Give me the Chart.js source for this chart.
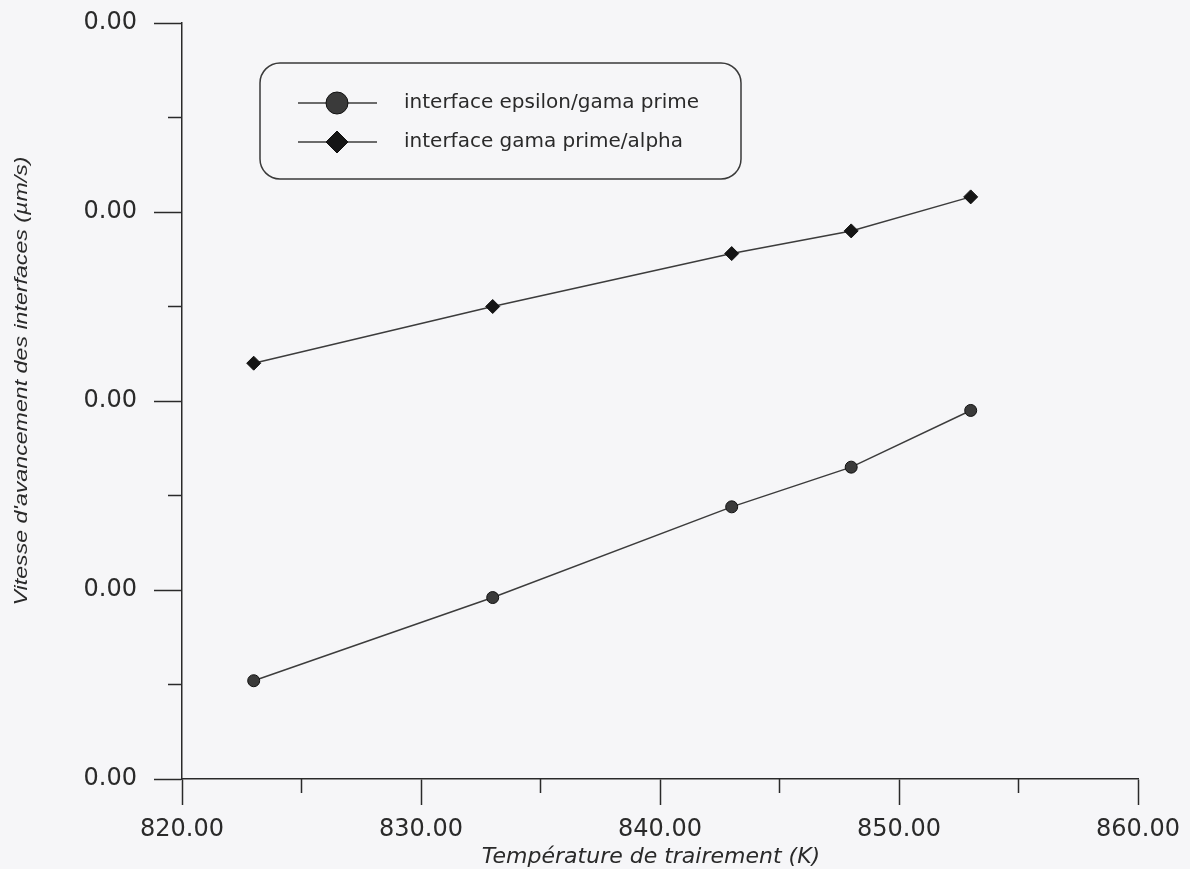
<!DOCTYPE html>
<html>
<head>
<meta charset="utf-8">
<script src="https://cdn.jsdelivr.net/npm/chart.js@4/dist/chart.umd.min.js"></script>
<style>
  html, body { margin: 0; padding: 0; background: #f6f6f8; }
  #wrap { width: 1190px; height: 869px; position: relative; }
</style>
</head>
<body>
<div id="wrap"><canvas id="chart"></canvas></div>
<script>
// Treatment temperatures (K)
const temperatures = [823, 833, 843, 848, 853];
// Interface advance speed (µm/s)
const epsilonGammaPrime = [0.00052, 0.00096, 0.00144, 0.00165, 0.00195];
const gammaPrimeAlpha = [0.00220, 0.00250, 0.00278, 0.00290, 0.00308];

const seriesLabels = ['interface epsilon/gama prime', 'interface gama prime/alpha'];
const xTitle = 'Température de trairement (K)';
const yTitle = "Vitesse d'avancement des interfaces (µm/s)";

const INK = '#2a2a2a';
const TICK_FONT = { family: 'DejaVu Sans', size: 24 };

const toPoints = (ys) => temperatures.map((t, i) => ({ x: t, y: ys[i] }));

// Half-step tick marks drawn on the outside of both axes
const minorTicks = {
  id: 'minorTicks',
  afterDraw(chart) {
    const { ctx, chartArea: a, scales: { x, y } } = chart;
    ctx.save();
    ctx.strokeStyle = INK;
    ctx.lineWidth = 1.5;
    ctx.beginPath();
    for (let v = 825; v < 860; v += 10) {
      const px = x.getPixelForValue(v);
      ctx.moveTo(px, a.bottom);
      ctx.lineTo(px, a.bottom + 14);
    }
    for (let k = 0; k < 4; k++) {
      const py = y.getPixelForValue(0.0005 + k * 0.001);
      ctx.moveTo(a.left, py);
      ctx.lineTo(a.left - 14, py);
    }
    ctx.stroke();
    ctx.restore();
  }
};

// Axis titles in italics
const axisTitles = {
  id: 'axisTitles',
  afterDraw(chart) {
    const { ctx, chartArea: a } = chart;
    ctx.save();
    ctx.fillStyle = INK;
    ctx.font = 'italic 22px "DejaVu Sans"';
    ctx.textAlign = 'center';
    ctx.textBaseline = 'middle';
    ctx.fillText(xTitle, (a.left + a.right) / 2 - 9, 857);
    ctx.translate(22, 381);
    ctx.rotate(-Math.PI / 2);
    ctx.scale(1.22, 1);
    ctx.font = 'italic 19px "Liberation Sans"';
    ctx.fillText(yTitle, 0, 0);
    ctx.restore();
  }
};

// Boxed legend with line-marker-line samples
const boxLegend = {
  id: 'boxLegend',
  afterDraw(chart) {
    const { ctx } = chart;
    const box = { x: 260, y: 63, w: 481, h: 116, r: 20 };
    ctx.save();
    ctx.strokeStyle = '#3a3a3a';
    ctx.lineWidth = 1.5;
    ctx.beginPath();
    ctx.roundRect(box.x, box.y, box.w, box.h, box.r);
    ctx.stroke();
    const rows = [103, 142];
    chart.data.datasets.forEach((ds, i) => {
      const yy = rows[i];
      ctx.strokeStyle = ds.borderColor;
      ctx.lineWidth = 1.5;
      ctx.beginPath();
      ctx.moveTo(298, yy);
      ctx.lineTo(377, yy);
      ctx.stroke();
      ctx.fillStyle = ds.pointBackgroundColor;
      ctx.strokeStyle = ds.pointBorderColor;
      ctx.lineWidth = 1;
      Chart.helpers.drawPoint(ctx, {
        pointStyle: ds.pointStyle,
        radius: 11,
        borderWidth: 1,
        rotation: 0
      }, 337, yy);
      ctx.fillStyle = INK;
      ctx.font = '20px "DejaVu Sans"';
      ctx.textAlign = 'left';
      ctx.textBaseline = 'middle';
      ctx.fillText(ds.label, 404, yy);
    });
    ctx.restore();
  }
};

new Chart(document.getElementById('chart'), {
  type: 'line',
  data: {
    datasets: [
      {
        label: seriesLabels[0],
        data: toPoints(epsilonGammaPrime),
        borderColor: '#3c3c3c',
        borderWidth: 1.5,
        pointStyle: 'circle',
        pointRadius: 6,
        pointBackgroundColor: '#3a3a3a',
        pointBorderColor: '#111',
        pointBorderWidth: 1
      },
      {
        label: seriesLabels[1],
        data: toPoints(gammaPrimeAlpha),
        borderColor: '#3c3c3c',
        borderWidth: 1.5,
        pointStyle: 'rectRot',
        pointRadius: 7,
        pointBackgroundColor: '#151515',
        pointBorderColor: '#111',
        pointBorderWidth: 1
      }
    ]
  },
  options: {
    responsive: true,
    maintainAspectRatio: false,
    animation: false,
    layout: { padding: { top: 23, right: 52, left: 0, bottom: 0 } },
    plugins: {
      legend: { display: false },
      tooltip: { enabled: false }
    },
    scales: {
      x: {
        type: 'linear',
        min: 820,
        max: 860,
        ticks: {
          stepSize: 10,
          color: INK,
          font: TICK_FONT,
          padding: 10,
          maxRotation: 0,
          callback: (v) => Number(v).toFixed(2)
        },
        grid: {
          drawOnChartArea: false,
          drawTicks: true,
          tickLength: 26,
          tickColor: INK,
          tickWidth: 1.5
        },
        border: { color: INK, width: 1.5 },
        afterFit: (s) => { s.height = 90; s.paddingLeft = 0; s.paddingRight = 0; }
      },
      y: {
        min: 0,
        max: 0.004,
        ticks: {
          stepSize: 0.001,
          color: INK,
          font: TICK_FONT,
          padding: 17,
          callback: (v) => Number(v).toFixed(2)
        },
        grid: {
          drawOnChartArea: false,
          drawTicks: true,
          tickLength: 28,
          tickColor: INK,
          tickWidth: 1.5
        },
        border: { color: INK, width: 1.5 },
        afterFit: (s) => { s.width = 182; s.paddingTop = 0; s.paddingBottom = 0; }
      }
    }
  },
  plugins: [minorTicks, axisTitles, boxLegend]
});
</script>
</body>
</html>
